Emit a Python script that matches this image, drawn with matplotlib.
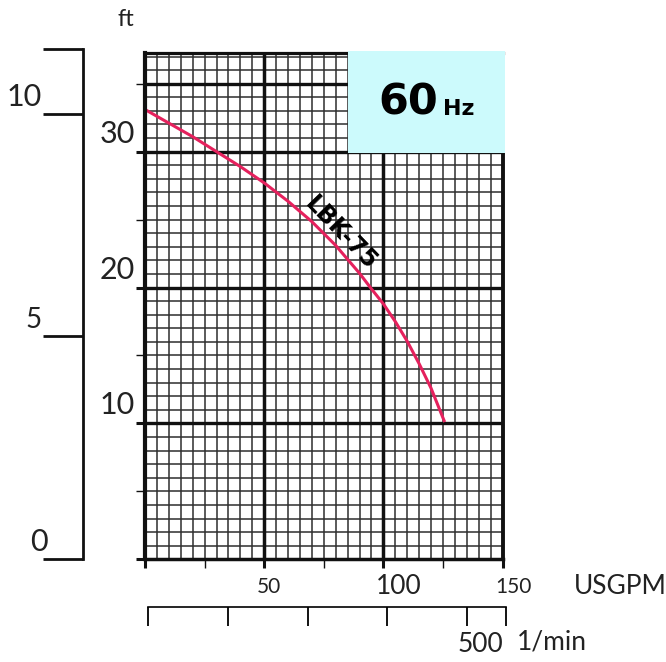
import numpy as np
import matplotlib.pyplot as plt
from matplotlib.patches import Rectangle

plt.rcParams['font.family'] = ['Lato', 'DejaVu Sans']

W, H = 666, 662

# LBK-75 pump curve (flow in USGPM, head in ft)
flow_gpm = [0, 10, 20, 30, 40, 50, 60, 70, 80, 90, 95, 100, 105, 110, 115, 120, 125.5]
head_ft = [33.1, 32.1, 31.1, 30.0, 28.9, 27.7, 26.35, 24.85, 23.1, 21.05, 19.9, 18.8,
           17.5, 16.05, 14.4, 12.6, 10.2]

gpm_labels = [50, 100, 150]
ft_labels = [10, 20, 30]
m_labels = [0, 5, 10]
lmin_ticks = [0, 125, 250, 375, 500, 561]

top_ft = 37.28
top_m = 11.45


def box(x0, y0, x1, y1):
    # pixel box -> figure fraction rect
    return [x0 / W, 1 - y1 / H, (x1 - x0) / W, (y1 - y0) / H]


fig = plt.figure(figsize=(W / 100, H / 100), dpi=100)

# main grid (ft / USGPM)
ax = fig.add_axes(box(145, 52.7, 502.5, 559.3))
ax.set_xlim(0, 150)
ax.set_ylim(0, top_ft)
for s in ax.spines.values():
    s.set_visible(False)

for x in np.arange(5, 150, 5):
    if x % 50:
        ax.axvline(x, color='#2e2e2e', lw=1.1, zorder=1)
for x in [50, 100]:
    ax.axvline(x, color='#111111', lw=2.5, zorder=2)
for y in range(1, 38):
    if y not in (10, 20, 30, 35):
        ax.axhline(y, color='#2e2e2e', lw=1.1, zorder=1)
for y in [10, 20, 30, 35]:
    ax.axhline(y, color='#111111', lw=2.4, zorder=2)

# border
ax.axvline(0, color='#111111', lw=3.0, zorder=5, clip_on=False)
ax.axvline(150, color='#111111', lw=2.8, zorder=2, clip_on=False)
ax.axhline(0, color='#111111', lw=2.5, zorder=5, clip_on=False)
ax.axhline(top_ft, color='#111111', lw=2.3, zorder=2, clip_on=False)

ax.set_yticks([0, 10, 20, 30])
ax.set_yticks([5, 15, 25, 35], minor=True)
ax.set_xticks([0, 50, 100, 150])
ax.set_xticks([25, 75, 125], minor=True)
ax.tick_params(which='major', length=6.5, width=2.2, color='#111111',
               labelleft=False, labelbottom=False)
ax.tick_params(which='minor', length=6.5, width=1.0, color='#111111')

for v, fs in zip(gpm_labels, [15, 19, 15]):
    ax.annotate(str(v), xy=(v, 0), xytext=(-7, -27.7), textcoords='offset pixels',
                ha='left', va='center', fontsize=fs, color='#222222')
for v in ft_labels:
    ax.annotate(str(v), xy=(0, v), xytext=(-10, 4), textcoords='offset pixels',
                ha='right', va='bottom', fontsize=22, color='#222222')

# 60 Hz box
ax.add_patch(Rectangle((85, 29.93), 66, top_ft + 0.15 - 29.93, facecolor='#ccfafc',
                       edgecolor='none', zorder=3, clip_on=False))
ax.text(97.8, 32.7, '60', fontsize=31, fontweight='bold', family='DejaVu Sans',
        ha='left', va='baseline', zorder=6)
ax.text(125, 32.7, 'Hz', fontsize=16, fontweight='bold', family='DejaVu Sans',
        ha='left', va='baseline', zorder=6)

ax.plot(flow_gpm, head_ft, color='#e5215d', lw=2.2, zorder=4)
ax.text(82.4, 24.0, 'LBK-75', rotation=-46, rotation_mode='anchor', ha='center',
        va='center', fontsize=17, fontweight='bold', family='DejaVu Sans', zorder=6)

# meter axis
axm = fig.add_axes(box(40, 49, 83.3, 559.3))
axm.set_xlim(0, 1)
axm.set_ylim(0, top_m)
axm.axis('off')
axm.axvline(1, color='#111111', lw=2.0, clip_on=False)
axm.hlines(m_labels + [top_m], 0.07, 1, color='#111111', lw=2.0, clip_on=False)
for v, fs, dx in zip(m_labels, [22, 20, 22], [6, 0, 0]):
    axm.annotate(str(v), xy=(0.07, v), xycoords=('axes fraction', 'data'),
                 xytext=(dx - 1, 3), textcoords='offset pixels',
                 ha='right', va='bottom', fontsize=fs, color='#222222')

# l/min axis
axl = fig.add_axes(box(148, 606, 506, 607))
axl.set_xlim(0, 561)
axl.set_yticks([])
for k in ['left', 'right', 'top']:
    axl.spines[k].set_visible(False)
axl.spines['bottom'].set_linewidth(1.2)
axl.set_xticks(lmin_ticks)
axl.tick_params(axis='x', length=14, width=1.3, labelbottom=False)
axl.annotate('500', xy=(500, 0), xytext=(13, -38), textcoords='offset pixels',
             ha='center', va='center', fontsize=19, color='#222222')

fig.text(574 / W, 1 - 587 / H, 'USGPM', ha='left', va='center', fontsize=19, color='#222222')
fig.text(517 / W, 1 - 642 / H, '1/min', ha='left', va='center', fontsize=19, color='#222222')
fig.text(126 / W, 1 - 20 / H, 'ft', ha='center', va='center', fontsize=17, color='#222222')

fig.savefig('out.png', dpi=100)
